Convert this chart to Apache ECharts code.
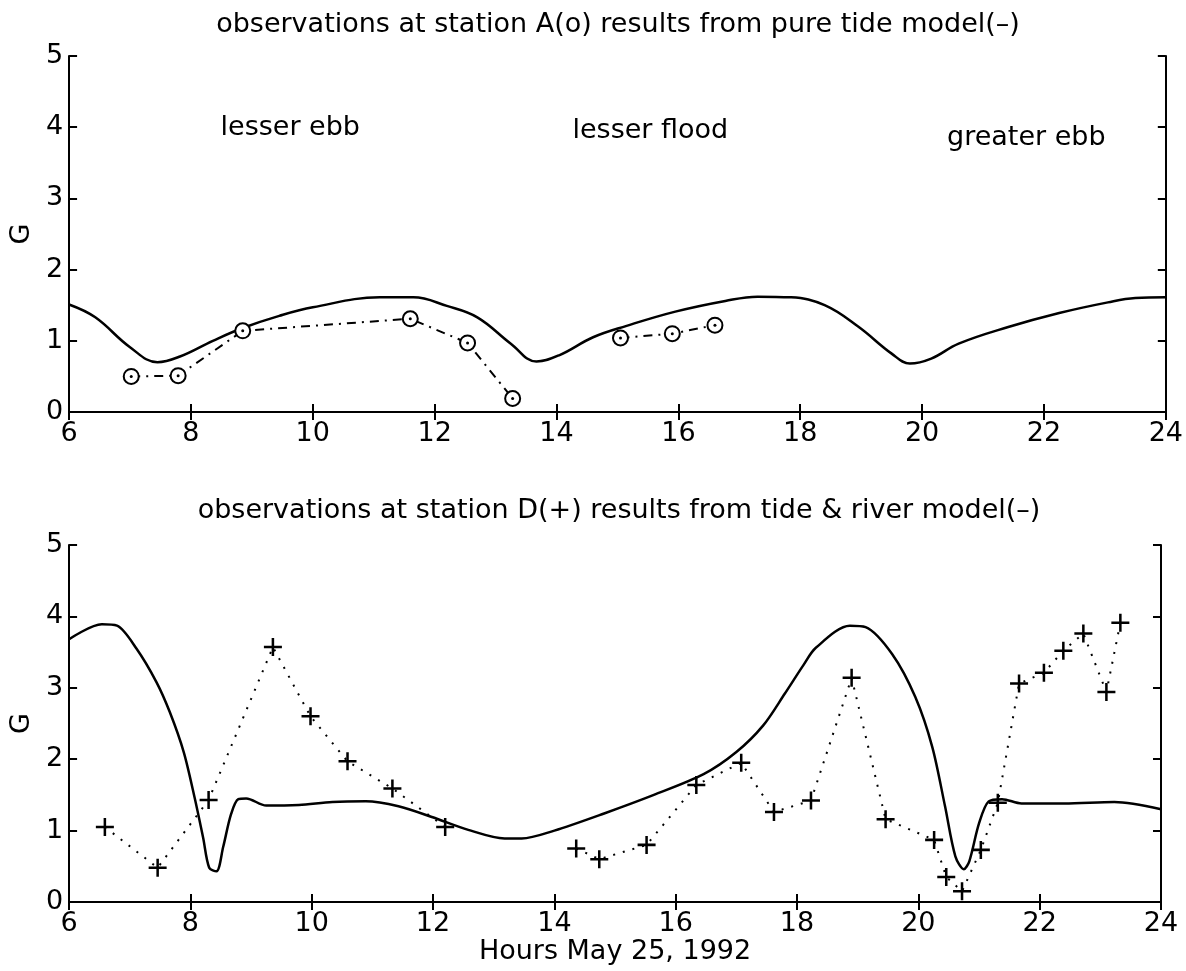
<!DOCTYPE html>
<html>
<head>
<meta charset="utf-8">
<script src="https://cdn.jsdelivr.net/npm/echarts@6/dist/echarts.min.js"></script>
<style>
  html, body { margin: 0; padding: 0; background: #fff; }
  #chart { width: 1186px; height: 971px; }
</style>
</head>
<body>
<div id="chart"></div>
<script>
// station A, pure tide model (solid line)
const tideHours = [6, 6.43, 7.0, 7.45, 7.82, 8.36, 8.85, 9.45, 10, 11.1, 11.65, 12.2, 12.7, 13.25, 13.67, 14.05, 14.6, 15.15, 15.95, 16.77, 17.3, 17.85, 18.4, 18.95, 19.5, 19.8, 20.15, 20.6, 21.4, 22.25, 23.05, 23.5, 24]
const tideG = [1.51, 1.33, 0.91, 0.70, 0.78, 1.00, 1.18, 1.35, 1.47, 1.61, 1.61, 1.49, 1.33, 0.96, 0.71, 0.80, 1.05, 1.21, 1.41, 1.56, 1.62, 1.61, 1.50, 1.20, 0.82, 0.68, 0.75, 0.96, 1.19, 1.39, 1.54, 1.60, 1.61]

// station A observations (o), null = gap in the line
const obsAHours = [7.02, 7.79, 8.85, 11.6, 12.54, 13.28, 14.2, 15.05, 15.9, 16.6]
const obsAG = [0.50, 0.51, 1.14, 1.31, 0.97, 0.19, null, 1.04, 1.10, 1.22]

// station D, tide & river model (solid line)
const riverHours = [6.0, 6.54, 6.79, 7.11, 7.44, 7.66, 7.89, 8.07, 8.21, 8.31, 8.43, 8.54, 8.67, 8.79, 8.92, 9.25, 9.79, 10.34, 10.89, 11.43, 11.98, 12.58, 13.18, 13.46, 14.0, 14.82, 15.64, 16.46, 17.0, 17.44, 17.8, 18.1, 18.31, 18.87, 19.13, 19.57, 19.95, 20.23, 20.44, 20.61, 20.75, 20.84, 21.0, 21.16, 21.38, 21.7, 22.41, 23.23, 24.0]
const riverG = [3.68, 3.89, 3.87, 3.55, 3.08, 2.66, 2.10, 1.46, 0.90, 0.48, 0.43, 0.77, 1.23, 1.44, 1.45, 1.35, 1.36, 1.40, 1.41, 1.34, 1.19, 1.01, 0.89, 0.89, 1.00, 1.24, 1.50, 1.79, 2.10, 2.47, 2.92, 3.31, 3.56, 3.87, 3.85, 3.47, 2.87, 2.17, 1.34, 0.64, 0.46, 0.57, 1.10, 1.41, 1.44, 1.38, 1.38, 1.40, 1.30]

// station D observations (+), null = gap in the line
const obsDHours = [6.59, 7.46, 8.30, 9.36, 9.98, 10.59, 11.33, 12.2, 13.3, 14.36, 14.74, 15.52, 16.34, 17.08, 17.62, 18.23, 18.9, 19.46, 20.26, 20.46, 20.72, 21.03, 21.31, 21.66, 22.07, 22.39, 22.72, 23.1, 23.33]
const obsDG = [1.05, 0.48, 1.43, 3.57, 2.60, 1.97, 1.59, 1.05, null, 0.75, 0.60, 0.80, 1.64, 1.95, 1.26, 1.42, 3.14, 1.16, 0.87, 0.35, 0.15, 0.73, 1.39, 3.06, 3.21, 3.52, 3.76, 2.94, 3.91]

// text annotations in the upper panel
const phaseLabels = ['lesser ebb', 'lesser flood', 'greater ebb']
const phaseHours = [9.63, 15.54, 21.71]
const phaseG = [3.99, 3.94, 3.85]

const FONT = 'DejaVu Sans'
const plusPath = 'path://M4.3,0 H5.7 V4.3 H10 V5.7 H5.7 V10 H4.3 V5.7 H0 V4.3 H4.3 Z'

const pairs = (xs, ys) => xs.map((x, i) => [x, ys[i] === null ? '-' : ys[i]])

const chart = echarts.init(document.getElementById('chart'))

const xAxisBase = (gridIndex, position, showLabel, name) => ({
  type: 'value',
  gridIndex,
  position,
  min: 6,
  max: 24,
  interval: 2,
  name: name || '',
  nameLocation: 'middle',
  nameGap: 36,
  nameTextStyle: { color: '#000', fontSize: 27, fontFamily: FONT },
  axisLine: { show: true, lineStyle: { color: '#000', width: 2 } },
  axisTick: { show: true, inside: true, length: 8, lineStyle: { color: '#000', width: 2 } },
  axisLabel: { show: showLabel, color: '#000', fontSize: 27, fontFamily: FONT, margin: 8 },
  splitLine: { show: false }
})

const yAxisBase = (gridIndex, position, showLabel) => ({
  type: 'value',
  gridIndex,
  position,
  min: 0,
  max: 5,
  interval: 1,
  name: showLabel ? 'G' : '',
  nameLocation: 'middle',
  nameGap: 34,
  nameRotate: 90,
  nameTextStyle: { color: '#000', fontSize: 27, fontFamily: FONT },
  axisLine: { show: true, lineStyle: { color: '#000', width: 2 } },
  axisTick: { show: true, inside: true, length: 8, lineStyle: { color: '#000', width: 2 } },
  axisLabel: { show: showLabel, color: '#000', fontSize: 27, fontFamily: FONT, margin: 6 },
  splitLine: { show: false }
})

const option = {
  animation: false,
  backgroundColor: '#fff',
  title: [
    {
      text: 'observations at station A(o) results from pure tide model(–)',
      left: 613, top: 6, textAlign: 'center',
      textStyle: { color: '#000', fontSize: 27, fontWeight: 'normal', fontFamily: FONT }
    },
    {
      text: 'observations at station D(+) results from tide & river model(–)',
      left: 614, top: 492, textAlign: 'center',
      textStyle: { color: '#000', fontSize: 27, fontWeight: 'normal', fontFamily: FONT }
    }
  ],
  grid: [
    { left: 68, top: 56, width: 1100, height: 356 },
    { left: 63, top: 545, width: 1098, height: 357 }
  ],
  xAxis: [
    xAxisBase(0, 'bottom', true),
    xAxisBase(0, 'top', false),
    xAxisBase(1, 'bottom', true, 'Hours May 25, 1992'),
    xAxisBase(1, 'top', false)
  ],
  yAxis: [
    yAxisBase(0, 'left', true),
    yAxisBase(0, 'right', false),
    yAxisBase(1, 'left', true),
    yAxisBase(1, 'right', false)
  ],
  series: [
    {
      name: 'pure tide model',
      type: 'line',
      xAxisIndex: 0, yAxisIndex: 0,
      data: pairs(tideHours, tideG),
      showSymbol: false,
      smooth: 0.4,
      lineStyle: { color: '#000', width: 2.5 }
    },
    {
      name: 'station A',
      type: 'line',
      xAxisIndex: 0, yAxisIndex: 0,
      data: pairs(obsAHours, obsAG),
      symbol: 'emptyCircle',
      symbolSize: 15,
      itemStyle: { color: '#000', borderWidth: 2.2 },
      lineStyle: { color: '#000', width: 2, type: [9, 6, 2, 6] },
      z: 3
    },
    {
      name: 'station A centre',
      type: 'scatter',
      xAxisIndex: 0, yAxisIndex: 0,
      data: pairs(obsAHours, obsAG),
      symbol: 'circle',
      symbolSize: 3,
      itemStyle: { color: '#000', opacity: 1 },
      z: 4
    },
    {
      name: 'phases',
      type: 'scatter',
      xAxisIndex: 0, yAxisIndex: 0,
      data: phaseHours.map((h, i) => ({ value: [h, phaseG[i]], name: phaseLabels[i] })),
      symbolSize: 0,
      itemStyle: { opacity: 1 },
      label: {
        show: true,
        position: 'inside',
        formatter: p => p.name,
        color: '#000',
        fontSize: 27,
        fontFamily: FONT
      }
    },
    {
      name: 'tide & river model',
      type: 'line',
      xAxisIndex: 2, yAxisIndex: 2,
      data: pairs(riverHours, riverG),
      showSymbol: false,
      smooth: 0.3,
      lineStyle: { color: '#000', width: 2.5 }
    },
    {
      name: 'station D',
      type: 'line',
      xAxisIndex: 2, yAxisIndex: 2,
      data: pairs(obsDHours, obsDG),
      symbol: plusPath,
      symbolSize: 18,
      showAllSymbol: true,
      itemStyle: { color: '#000' },
      lineStyle: { color: '#000', width: 2, type: [2, 8] },
      z: 3
    }
  ]
}

chart.setOption(option)
</script>
</body>
</html>
